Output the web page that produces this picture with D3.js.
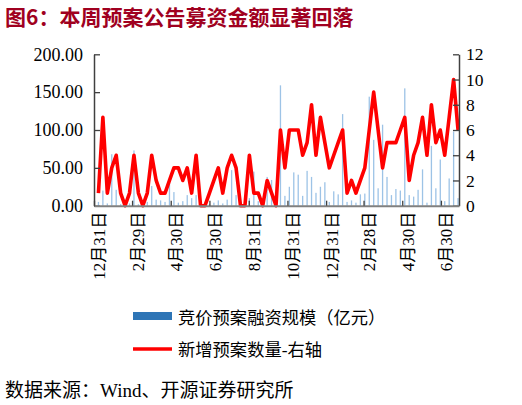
<!DOCTYPE html>
<html><head><meta charset="utf-8">
<script src="https://cdn.jsdelivr.net/npm/d3@7"></script>
<style>
html,body{margin:0;padding:0;background:#fff;}
svg{display:block;}
</style></head>
<body>
<svg id="c" width="522" height="405"></svg>
<script>
// ---- data ----
const weeks = [
 "2024-01-07","2024-01-14","2024-01-21","2024-01-28","2024-02-04","2024-02-11","2024-02-18","2024-02-25",
 "2024-03-03","2024-03-10","2024-03-17","2024-03-24","2024-03-31","2024-04-07","2024-04-14","2024-04-21",
 "2024-04-28","2024-05-05","2024-05-12","2024-05-19","2024-05-26","2024-06-02","2024-06-09","2024-06-16",
 "2024-06-23","2024-06-30","2024-07-07","2024-07-14","2024-07-21","2024-07-28","2024-08-04","2024-08-11",
 "2024-08-18","2024-08-25","2024-09-01","2024-09-08","2024-09-15","2024-09-22","2024-09-29","2024-10-06",
 "2024-10-13","2024-10-20","2024-10-27","2024-11-03","2024-11-10","2024-11-17","2024-11-24","2024-12-01",
 "2024-12-08","2024-12-15","2024-12-22","2024-12-29","2025-01-05","2025-01-12","2025-01-19","2025-01-26",
 "2025-02-02","2025-02-09","2025-02-16","2025-02-23","2025-03-02","2025-03-09","2025-03-16","2025-03-23",
 "2025-03-30","2025-04-06","2025-04-13","2025-04-20","2025-04-27","2025-05-04","2025-05-11","2025-05-18",
 "2025-05-25","2025-06-01","2025-06-08","2025-06-15","2025-06-22","2025-06-29","2025-07-06","2025-07-13",
 "2025-07-20","2025-07-27"
];
// 竞价预案融资规模（亿元）
const amount = [
 5,20,3,68,21,2,1,3,73,2,
 1,5,26,8,7,5,30,18,4,6,
 14,10,14,2,1,2,4,7,3,8,
 47,14,3,2,10,45,6,3,38,34,
 3,159,13,25,44,41,13,46,38,17,
 25,31,5,19,15,121,5,7,4,15,
 16,144,87,23,107,38,14,22,20,155,
 14,12,21,48,4,79,23,61,6,36,
 98,10
];
// 新增预案数量-右轴
const count = [
 1,7,1,3,4,1,0,1,4,1,
 0,1,4,2,1,1,2,3,3,2,
 3,1,4,0,0,1,2,3,1,3,
 4,3,0,0,4,1,1,0,2,1,
 0,6,3,6,6,6,4,5,8,4,
 7,5,3,4,5,6,1,2,1,2,
 3,6,9,6,3,5,5,5,6,7,
 2,4,5,7,4,8,5,6,4,7,
 10,6
];
const tickDates = ["2023-12-31","2024-02-29","2024-04-30","2024-06-30","2024-08-31","2024-10-31",
                   "2024-12-31","2025-02-28","2025-04-30","2025-06-30"];
const tickLabels = ["12月31日","2月29日","4月30日","6月30日","8月31日","10月31日",
                    "12月31日","2月28日","4月30日","6月30日"];
const leftTicks = [0,50,100,150,200];
const rightTicks = [0,2,4,6,8,10,12];
const seriesNames = ["竞价预案融资规模（亿元）","新增预案数量-右轴"];
const titleText = "图6：本周预案公告募资金额显著回落";
const sourceText = "数据来源：Wind、开源证券研究所";

// ---- drawing ----
const parse = d3.timeParse("%Y-%m-%d");
const svg = d3.select("#c");
const FONT = "'Liberation Serif','Noto Sans CJK SC',serif";
const CJK = "'Liberation Serif','Noto Sans CJK SC',sans-serif";

const L = 94, R = 459, T = 54.3, B = 205.7;
const x = d3.scaleTime().domain([parse("2023-12-31"), new Date(2025,6,28,12)]).range([L, R]);
const yL = d3.scaleLinear().domain([0,200]).range([B, T]);
const yR = d3.scaleLinear().domain([0,12]).range([B, T]);

const data = weeks.map((w,i)=>({d:parse(w), a:amount[i], c:count[i]}));

// bars
svg.append("g").selectAll("rect").data(data).join("rect")
  .attr("x", d=>x(d.d)-0.65)
  .attr("width", 1.3)
  .attr("y", d=>yL(d.a))
  .attr("height", d=>yL(0)-yL(d.a))
  .attr("fill", "#5B9BD5")
  .attr("opacity", 0.6);

// line
svg.append("path").datum(data)
  .attr("fill","none").attr("stroke","#FF0000").attr("stroke-width",3.6)
  .attr("stroke-linejoin","round")
  .attr("d", d3.line().x(d=>x(d.d)).y(d=>yR(d.c)));

// left axis
const gl = svg.append("g").attr("transform",`translate(${L},0)`)
  .call(d3.axisLeft(yL).tickValues(leftTicks).tickFormat(d3.format(".2f"))
        .tickSizeInner(-6).tickSizeOuter(0).tickPadding(11));
gl.select(".domain").attr("stroke","#404040").attr("stroke-width",1.5);
gl.selectAll(".tick line").attr("stroke","#404040").attr("stroke-width",1.3);
gl.selectAll("text").attr("font-family",FONT).attr("font-size",18).attr("fill","#000");

// right axis
const gr = svg.append("g").attr("transform",`translate(${R},0)`)
  .call(d3.axisRight(yR).tickValues(rightTicks)
        .tickSizeInner(-6).tickSizeOuter(0).tickPadding(7));
gr.select(".domain").attr("stroke","#404040").attr("stroke-width",1.5);
gr.selectAll(".tick line").attr("stroke","#404040").attr("stroke-width",1.3);
gr.selectAll("text").attr("font-family",FONT).attr("font-size",17.5).attr("fill","#000");

// bottom axis
const gb = svg.append("g").attr("transform",`translate(0,${B})`)
  .call(d3.axisBottom(x).tickValues(tickDates.map(parse))
        .tickFormat((d,i)=>tickLabels[i]).tickSizeInner(-5).tickSizeOuter(0));
gb.select(".domain").attr("stroke","#808080").attr("stroke-width",2);
gb.selectAll(".tick line").attr("stroke","#404040").attr("stroke-width",1.3);
gb.selectAll(".tick text")
  .attr("font-family",CJK).attr("font-size",17).attr("fill","#000")
  .attr("text-anchor","end")
  .attr("transform","translate(5,6) rotate(-90)")
  .attr("x",0).attr("y",0).attr("dy","0.35em");

// legend
svg.append("rect").attr("x",133).attr("y",312).attr("width",39).attr("height",8).attr("fill","#2E75B6");
svg.append("text").attr("x",178).attr("y",318).attr("dy","0.35em")
  .attr("font-family",CJK).attr("font-size",17.3).text(seriesNames[0]);
svg.append("line").attr("x1",133).attr("x2",172).attr("y1",349).attr("y2",349)
  .attr("stroke","#FF0000").attr("stroke-width",3.6);
svg.append("text").attr("x",178).attr("y",350).attr("dy","0.35em")
  .attr("font-family",CJK).attr("font-size",17.3).text(seriesNames[1]);

// title
svg.append("text").attr("x",5).attr("y",18).attr("dy","0.35em")
  .attr("font-family","'Noto Sans CJK SC',sans-serif").attr("font-weight","bold")
  .attr("font-size",21).attr("fill","#A00020").text(titleText);

// source
svg.append("text").attr("x",5).attr("y",390).attr("dy","0.35em")
  .attr("font-family",CJK).attr("font-size",19).attr("fill","#000").text(sourceText);
</script>
</body></html>
